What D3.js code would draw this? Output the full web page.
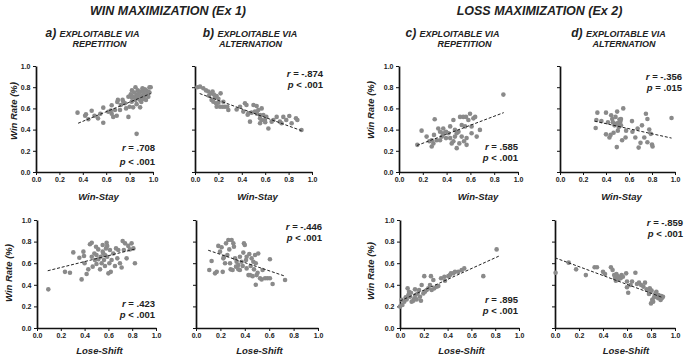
<!DOCTYPE html>
<html><head><meta charset="utf-8">
<script src="https://cdn.jsdelivr.net/npm/d3@7"></script>
<style>
body{margin:0;background:#fff}
svg{display:block}
text{font-family:"Liberation Sans",Arial,sans-serif;font-weight:bold;fill:#222}
</style>
</head><body><svg id="chart" width="685" height="358"></svg>
<script>
// ---------------- DATA ----------------
const axisTicks = [0, 0.2, 0.4, 0.6, 0.8, 1.0];
const groupTitles = ["WIN MAXIMIZATION (Ex 1)", "LOSS MAXIMIZATION (Ex 2)"];
const panelLetters = ["a)", "b)", "c)", "d)"];
const panelLine1 = "EXPLOITABLE VIA";
const panelLine2 = ["REPETITION", "ALTERNATION", "REPETITION", "ALTERNATION"];
const xTitles = ["Win-Stay", "Lose-Shift"];
const yTitle = "Win Rate (%)";
// order: aTop, bTop, cTop, dTop, aBot, bBot, cBot, dBot
const rValues = [".708", "-.874", ".585", "-.356", ".423", "-.446", ".895", "-.859"];
const pValues = ["< .001", "< .001", "< .001", "= .015", "< .001", "< .001", "< .001", "< .001"];
const trendLines = [
  [0.36, 0.46, 0.98, 0.74],
  [0.04, 0.74, 0.91, 0.39],
  [0.15, 0.25, 0.88, 0.56],
  [0.30, 0.48, 0.97, 0.32],
  [0.09, 0.53, 0.82, 0.73],
  [0.10, 0.72, 0.73, 0.48],
  [0.00, 0.25, 0.83, 0.665],
  [0.00, 0.65, 0.89, 0.285]
];

const winStayEx1Rep = [[0.355,0.56],[0.42,0.53],[0.427,0.544],[0.447,0.497],[0.476,0.578],[0.50,0.53],[0.53,0.506],[0.55,0.55],[0.575,0.607],[0.575,0.465],[0.618,0.569],[0.64,0.58],[0.647,0.55],[0.647,0.63],[0.66,0.52],[0.675,0.585],[0.695,0.66],[0.69,0.53],[0.70,0.68],[0.718,0.585],[0.724,0.632],[0.74,0.68],[0.746,0.663],[0.76,0.648],[0.77,0.60],[0.79,0.52],[0.79,0.71],[0.80,0.616],[0.81,0.733],[0.818,0.663],[0.82,0.70],[0.82,0.77],[0.83,0.71],[0.83,0.61],[0.85,0.80],[0.85,0.68],[0.86,0.73],[0.86,0.64],[0.86,0.36],[0.87,0.72],[0.87,0.77],[0.88,0.70],[0.88,0.74],[0.89,0.76],[0.89,0.68],[0.89,0.61],[0.90,0.71],[0.90,0.66],[0.91,0.76],[0.91,0.72],[0.91,0.79],[0.92,0.74],[0.92,0.69],[0.93,0.72],[0.93,0.78],[0.94,0.77],[0.94,0.68],[0.95,0.74],[0.96,0.71],[0.96,0.76],[0.97,0.80],[0.97,0.75],[0.98,0.80],[0.84,0.75],[0.86,0.70]];

const winStayEx1Alt = [[0.02,0.80],[0.043,0.805],[0.071,0.79],[0.094,0.77],[0.114,0.76],[0.134,0.74],[0.15,0.76],[0.162,0.73],[0.171,0.705],[0.185,0.717],[0.219,0.742],[0.142,0.68],[0.157,0.663],[0.18,0.648],[0.20,0.654],[0.214,0.616],[0.236,0.616],[0.256,0.616],[0.276,0.616],[0.185,0.616],[0.242,0.663],[0.285,0.585],[0.356,0.59],[0.385,0.616],[0.413,0.57],[0.427,0.648],[0.44,0.632],[0.456,0.553],[0.47,0.475],[0.484,0.56],[0.50,0.632],[0.513,0.57],[0.527,0.622],[0.541,0.585],[0.556,0.538],[0.57,0.60],[0.584,0.538],[0.598,0.49],[0.57,0.49],[0.556,0.46],[0.61,0.52],[0.627,0.41],[0.655,0.475],[0.67,0.49],[0.698,0.52],[0.726,0.475],[0.74,0.46],[0.755,0.52],[0.78,0.49],[0.806,0.528],[0.826,0.46],[0.863,0.506],[0.875,0.49],[0.91,0.396],[0.556,0.506],[0.45,0.54],[0.53,0.55],[0.60,0.47],[0.20,0.69],[0.12,0.72]];

const winStayEx2Rep = [[0.154,0.256],[0.19,0.39],[0.232,0.334],[0.255,0.29],[0.275,0.24],[0.289,0.27],[0.294,0.35],[0.30,0.497],[0.317,0.30],[0.33,0.41],[0.345,0.30],[0.345,0.38],[0.36,0.334],[0.37,0.366],[0.372,0.41],[0.395,0.32],[0.395,0.38],[0.415,0.366],[0.43,0.43],[0.43,0.32],[0.443,0.27],[0.457,0.49],[0.457,0.29],[0.47,0.397],[0.47,0.334],[0.485,0.366],[0.485,0.225],[0.50,0.38],[0.507,0.27],[0.513,0.52],[0.527,0.444],[0.527,0.334],[0.54,0.52],[0.546,0.29],[0.555,0.43],[0.563,0.52],[0.568,0.32],[0.568,0.256],[0.583,0.49],[0.597,0.55],[0.61,0.43],[0.61,0.366],[0.625,0.506],[0.64,0.52],[0.653,0.334],[0.68,0.397],[0.877,0.73],[0.275,0.30]];

const winStayEx2Alt = [[0.31,0.415],[0.316,0.49],[0.325,0.56],[0.36,0.48],[0.40,0.56],[0.40,0.355],[0.417,0.47],[0.43,0.325],[0.44,0.35],[0.445,0.535],[0.454,0.50],[0.46,0.47],[0.466,0.37],[0.474,0.44],[0.483,0.52],[0.489,0.455],[0.494,0.235],[0.497,0.57],[0.50,0.46],[0.503,0.39],[0.511,0.425],[0.517,0.495],[0.52,0.47],[0.526,0.48],[0.53,0.50],[0.53,0.44],[0.54,0.30],[0.55,0.60],[0.57,0.325],[0.575,0.39],[0.626,0.48],[0.63,0.38],[0.655,0.325],[0.675,0.41],[0.684,0.23],[0.70,0.275],[0.713,0.44],[0.733,0.325],[0.747,0.55],[0.76,0.50],[0.76,0.28],[0.776,0.40],[0.79,0.36],[0.80,0.26],[0.805,0.24],[0.97,0.51]];

const loseShiftEx1Rep = [[0.095,0.358],[0.235,0.52],[0.277,0.512],[0.305,0.70],[0.356,0.65],[0.375,0.45],[0.39,0.707],[0.395,0.667],[0.40,0.60],[0.417,0.50],[0.431,0.543],[0.445,0.775],[0.46,0.79],[0.46,0.66],[0.468,0.568],[0.482,0.69],[0.487,0.63],[0.496,0.753],[0.50,0.593],[0.50,0.676],[0.515,0.636],[0.515,0.728],[0.53,0.543],[0.535,0.66],[0.543,0.60],[0.552,0.768],[0.552,0.707],[0.557,0.69],[0.563,0.63],[0.571,0.574],[0.571,0.676],[0.58,0.737],[0.585,0.79],[0.59,0.76],[0.59,0.66],[0.60,0.506],[0.608,0.60],[0.613,0.722],[0.62,0.52],[0.627,0.63],[0.641,0.69],[0.655,0.574],[0.664,0.737],[0.675,0.645],[0.683,0.722],[0.697,0.60],[0.711,0.56],[0.72,0.805],[0.73,0.722],[0.74,0.784],[0.753,0.645],[0.767,0.76],[0.78,0.728],[0.795,0.784],[0.81,0.737],[0.823,0.60]];

const loseShiftEx1Alt = [[0.109,0.537],[0.128,0.62],[0.156,0.506],[0.17,0.52],[0.183,0.76],[0.197,0.707],[0.21,0.747],[0.219,0.52],[0.224,0.645],[0.23,0.66],[0.238,0.60],[0.246,0.784],[0.257,0.676],[0.265,0.815],[0.273,0.728],[0.279,0.60],[0.284,0.543],[0.292,0.815],[0.30,0.537],[0.306,0.784],[0.311,0.753],[0.32,0.645],[0.328,0.568],[0.333,0.614],[0.347,0.583],[0.347,0.543],[0.36,0.537],[0.36,0.66],[0.374,0.614],[0.383,0.574],[0.388,0.698],[0.393,0.784],[0.40,0.768],[0.41,0.63],[0.415,0.552],[0.415,0.66],[0.43,0.49],[0.437,0.685],[0.443,0.49],[0.448,0.574],[0.456,0.645],[0.464,0.48],[0.47,0.614],[0.475,0.543],[0.484,0.676],[0.49,0.60],[0.49,0.40],[0.497,0.49],[0.505,0.512],[0.51,0.69],[0.525,0.46],[0.538,0.45],[0.546,0.537],[0.566,0.46],[0.585,0.46],[0.606,0.636],[0.606,0.46],[0.628,0.407],[0.73,0.444]];

const loseShiftEx2Rep = [[0.0,0.198],[0.014,0.26],[0.02,0.213],[0.036,0.244],[0.048,0.284],[0.056,0.265],[0.064,0.367],[0.07,0.306],[0.076,0.336],[0.084,0.29],[0.092,0.327],[0.098,0.244],[0.112,0.253],[0.12,0.275],[0.126,0.358],[0.13,0.306],[0.14,0.265],[0.148,0.32],[0.16,0.352],[0.168,0.29],[0.176,0.253],[0.182,0.398],[0.196,0.32],[0.204,0.48],[0.21,0.336],[0.224,0.352],[0.238,0.367],[0.252,0.398],[0.26,0.48],[0.266,0.352],[0.28,0.444],[0.288,0.367],[0.308,0.383],[0.322,0.389],[0.345,0.46],[0.373,0.475],[0.378,0.438],[0.406,0.48],[0.42,0.49],[0.428,0.506],[0.448,0.506],[0.462,0.52],[0.49,0.52],[0.518,0.537],[0.54,0.552],[0.70,0.48],[0.812,0.728]];

const loseShiftEx2Alt = [[0.005,0.512],[0.114,0.605],[0.176,0.543],[0.257,0.49],[0.33,0.562],[0.35,0.562],[0.40,0.52],[0.417,0.50],[0.466,0.562],[0.48,0.537],[0.493,0.49],[0.50,0.46],[0.507,0.438],[0.512,0.50],[0.52,0.48],[0.528,0.45],[0.534,0.475],[0.547,0.46],[0.555,0.49],[0.566,0.475],[0.593,0.506],[0.60,0.377],[0.60,0.43],[0.61,0.327],[0.63,0.398],[0.642,0.43],[0.67,0.512],[0.683,0.407],[0.70,0.42],[0.718,0.398],[0.737,0.383],[0.75,0.42],[0.764,0.358],[0.777,0.352],[0.783,0.315],[0.79,0.367],[0.80,0.228],[0.805,0.346],[0.81,0.26],[0.818,0.244],[0.826,0.284],[0.832,0.306],[0.837,0.32],[0.845,0.336],[0.854,0.296],[0.86,0.275],[0.864,0.306],[0.872,0.284],[0.88,0.26],[0.886,0.296],[0.89,0.275],[0.90,0.29]];

// ---------------- LAYOUT ----------------
const panels = [
  {pts: winStayEx1Rep,   x0: 36,  x1: 153, top: 66,  bot: 172, yLab: true,  sx: 155, rY: 151, pY: 165, xt: 98.5,  xtY: 200, xtIdx: 0},
  {pts: winStayEx1Alt,   x0: 195, x1: 312, top: 66,  bot: 172, yLab: false, sx: 323, rY: 77,  pY: 88,  xt: 257.5, xtY: 200, xtIdx: 0},
  {pts: winStayEx2Rep,   x0: 399, x1: 518, top: 66,  bot: 172, yLab: true,  sx: 518, rY: 150, pY: 161, xt: 478,   xtY: 200, xtIdx: 0},
  {pts: winStayEx2Alt,   x0: 560, x1: 675, top: 66,  bot: 172, yLab: false, sx: 682, rY: 80,  pY: 91,  xt: 621.5, xtY: 200, xtIdx: 0},
  {pts: loseShiftEx1Rep, x0: 37,  x1: 156, top: 220, bot: 328, yLab: true,  sx: 155, rY: 307, pY: 318, xt: 99.5,  xtY: 354, xtIdx: 1},
  {pts: loseShiftEx1Alt, x0: 196, x1: 318, top: 220, bot: 328, yLab: false, sx: 322, rY: 230, pY: 241, xt: 259.5, xtY: 354, xtIdx: 1},
  {pts: loseShiftEx2Rep, x0: 400, x1: 519, top: 220, bot: 328, yLab: true,  sx: 518, rY: 303, pY: 314, xt: 461.5, xtY: 354, xtIdx: 1},
  {pts: loseShiftEx2Alt, x0: 555, x1: 675, top: 220, bot: 328, yLab: false, sx: 683, rY: 226, pY: 237, xt: 626,   xtY: 354, xtIdx: 1}
];

const svg = d3.select("#chart");
const fmt = d3.format(".1f");

panels.forEach((p, i) => {
  const x = d3.scaleLinear().domain([0, 1]).range([p.x0, p.x1]);
  const y = d3.scaleLinear().domain([0, 1]).range([p.bot, p.top]);
  const g = svg.append("g");

  const xAxis = d3.axisBottom(x).tickValues(axisTicks).tickFormat(fmt).tickSizeInner(3).tickSizeOuter(0).tickPadding(2);
  const gx = g.append("g").attr("transform", `translate(0,${p.bot})`).call(xAxis);
  gx.select(".domain").attr("stroke", "#111").attr("stroke-width", 1.7);
  gx.selectAll(".tick line").attr("stroke", "#111").attr("stroke-width", 1);
  gx.selectAll(".tick text").style("font-size", "7px").style("font-weight", "bold").attr("fill", "#222")
    .style("font-family", '"Liberation Sans",Arial,sans-serif');

  const yAxis = d3.axisLeft(y).tickValues(axisTicks).tickFormat(p.yLab ? fmt : () => "").tickSizeInner(3).tickSizeOuter(0).tickPadding(2.5);
  const gy = g.append("g").attr("transform", `translate(${p.x0},0)`).call(yAxis);
  gy.select(".domain").attr("stroke", "#111").attr("stroke-width", 1.7);
  gy.selectAll(".tick line").attr("stroke", "#111").attr("stroke-width", 1);
  gy.selectAll(".tick text").style("font-size", "7px").style("font-weight", "bold").attr("fill", "#222")
    .style("font-family", '"Liberation Sans",Arial,sans-serif');

  g.append("g").selectAll("circle").data(p.pts).join("circle")
    .attr("cx", d => x(d[0])).attr("cy", d => y(d[1])).attr("r", 2.3)
    .attr("fill", "#8a8a8a");

  const t = trendLines[i];
  g.append("line")
    .attr("x1", x(t[0])).attr("y1", y(t[1])).attr("x2", x(t[2])).attr("y2", y(t[3]))
    .attr("stroke", "#222").attr("stroke-width", 1).attr("stroke-dasharray", "3,1.8");

  const rt = g.append("text").attr("x", p.sx).attr("y", p.rY).attr("text-anchor", "end").style("font-size", "9.5px");
  rt.append("tspan").style("font-style", "italic").text("r");
  rt.append("tspan").text(" = " + rValues[i]);
  const pt = g.append("text").attr("x", p.sx).attr("y", p.pY).attr("text-anchor", "end").style("font-size", "9.5px");
  pt.append("tspan").style("font-style", "italic").text("p");
  pt.append("tspan").text(" " + pValues[i]);

  g.append("text").attr("x", p.xt).attr("y", p.xtY).attr("text-anchor", "middle")
    .style("font-size", "9.5px").style("font-style", "italic").text(xTitles[p.xtIdx]);
});

// y-axis titles
const yTitlePos = [[13, 111], [8, 273], [370, 110], [370, 271]];
yTitlePos.forEach(([cx, cy]) => {
  svg.append("text").attr("transform", `translate(${cx + 3.5},${cy}) rotate(-90)`)
    .attr("text-anchor", "middle").style("font-size", "9.5px").style("font-style", "italic").text(yTitle);
});

// group titles
const groupPos = [168, 539.5];
groupTitles.forEach((tx, i) => {
  svg.append("text").attr("x", groupPos[i]).attr("y", 14.5).attr("text-anchor", "middle")
    .style("font-size", "12.5px").style("font-style", "italic").attr("fill", "#111").text(tx);
});

// panel subtitles
const sub1X = [92.5, 250, 452.5, 618.5];
const sub2X = [99.5, 250.5, 464.5, 624];
panelLetters.forEach((l, i) => {
  const t1 = svg.append("text").attr("x", sub1X[i]).attr("y", 36.5).attr("text-anchor", "middle").style("font-style", "italic");
  t1.append("tspan").style("font-size", "12px").text(l + " ");
  t1.append("tspan").style("font-size", "9px").text(panelLine1);
  svg.append("text").attr("x", sub2X[i]).attr("y", 47).attr("text-anchor", "middle")
    .style("font-style", "italic").style("font-size", "9px").text(panelLine2[i]);
});
</script>
</body></html>
